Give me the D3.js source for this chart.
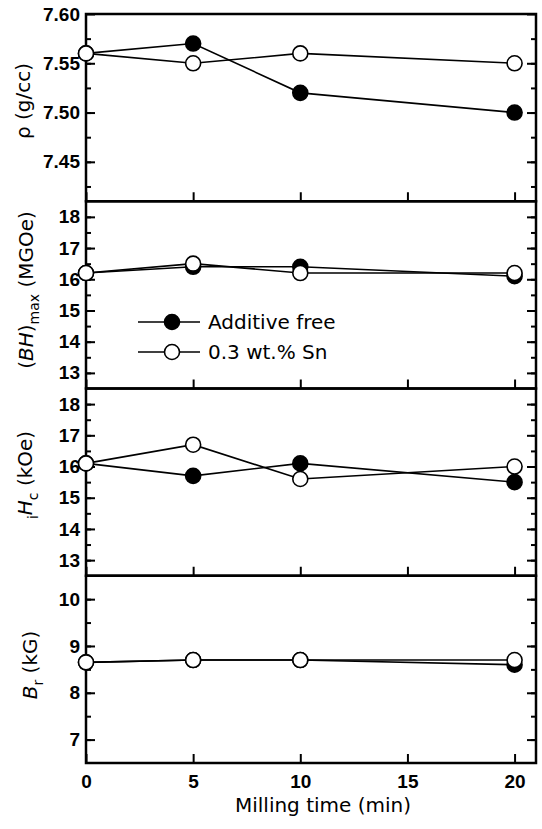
<!DOCTYPE html>
<html>
<head>
<meta charset="utf-8">
<title>Milling time</title>
<script src="https://d3js.org/d3.v7.min.js"></script>
<style>
body { margin: 0; background: #fff; }
.tick text { font-family: "Liberation Sans", Arial, sans-serif; font-weight: bold; font-size: 19px; fill: #000; }
.axis path { display: none; }
.axis line { stroke: #000; stroke-width: 2; }
.lbl { font-family: "DejaVu Sans", sans-serif; font-size: 20px; fill: #000; }
</style>
</head>
<body>
<script>
// data
var times = [0, 5, 10, 20];
var xTicks = [0, 5, 10, 15, 20];

var rhoFree = [7.56, 7.57, 7.52, 7.50];
var rhoSn   = [7.56, 7.55, 7.56, 7.55];
var bhFree  = [16.2, 16.4, 16.4, 16.1];
var bhSn    = [16.2, 16.5, 16.2, 16.2];
var hcFree  = [16.1, 15.7, 16.1, 15.5];
var hcSn    = [16.1, 16.7, 15.6, 16.0];
var brFree  = [8.65, 8.7, 8.7, 8.6];
var brSn    = [8.65, 8.7, 8.7, 8.7];

var rhoTicks = [7.45, 7.50, 7.55, 7.60];
var bhTicks = [13, 14, 15, 16, 17, 18];
var hcTicks = [13, 14, 15, 16, 17, 18];
var brTicks = [7, 8, 9, 10];

var legendNames = ["Additive free", "0.3 wt.% Sn"];

var W = 542, H = 829;
var pL = 86, pR = 536, pT = 14, ph = 187.25;

var svg = d3.select("body").append("svg").attr("width", W).attr("height", H);

var x = d3.scaleLinear().domain([0, 21]).range([pL, pR]);

var panels = [
  {dom: [7.41, 7.60], major: rhoTicks, minorStep: 0.025, fmt: d3.format(".2f"), a: rhoFree, b: rhoSn},
  {dom: [12.5, 18.5], major: bhTicks, minorStep: 0.5, fmt: d3.format("d"), a: bhFree, b: bhSn},
  {dom: [12.5, 18.5], major: hcTicks, minorStep: 0.5, fmt: d3.format("d"), a: hcFree, b: hcSn},
  {dom: [6.5, 10.5], major: brTicks, minorStep: 0.5, fmt: d3.format("d"), a: brFree, b: brSn}
];

panels.forEach(function(p, i) {
  var y0 = pT + i * ph, y1 = y0 + ph;
  var y = d3.scaleLinear().domain(p.dom).range([y1, y0]);
  var minor = d3.range(Math.ceil(p.dom[0] / p.minorStep - 1e-6), Math.floor(p.dom[1] / p.minorStep + 1e-6) + 1)
    .map(function(k) { return +(k * p.minorStep).toFixed(4); })
    .filter(function(v) { return v > p.dom[0] && v < p.dom[1]; });

  var g = svg.append("g");
  // left axis
  g.append("g").attr("class", "axis").attr("transform", "translate(" + pL + ",0)")
    .call(d3.axisLeft(y).tickValues(minor).tickSize(-5).tickFormat(""));
  g.append("g").attr("class", "axis").attr("transform", "translate(" + pL + ",0)")
    .call(d3.axisLeft(y).tickValues(p.major).tickSize(-9).tickPadding(6).tickFormat(p.fmt));
  // right axis
  g.append("g").attr("class", "axis").attr("transform", "translate(" + pR + ",0)")
    .call(d3.axisRight(y).tickValues(minor).tickSize(-5).tickFormat(""));
  g.append("g").attr("class", "axis").attr("transform", "translate(" + pR + ",0)")
    .call(d3.axisRight(y).tickValues(p.major).tickSize(-9).tickFormat(""));
  // bottom x ticks
  var xa = d3.axisBottom(x).tickValues(xTicks).tickSize(-9).tickPadding(12);
  if (i < 3) xa.tickFormat("");
  g.append("g").attr("class", "axis").attr("transform", "translate(0," + y1 + ")").call(xa);

  g.append("rect").attr("x", pL).attr("y", y0).attr("width", pR - pL).attr("height", ph)
    .attr("fill", "none").attr("stroke", "#000").attr("stroke-width", 2.5);

  var line = d3.line().x(function(d, j) { return x(times[j]); }).y(function(d) { return y(d); });
  [p.a, p.b].forEach(function(s) {
    g.append("path").datum(s).attr("d", line).attr("fill", "none")
      .attr("stroke", "#000").attr("stroke-width", 1.6);
  });
  // filled first, open on top
  [p.a, p.b].forEach(function(s, k) {
    g.selectAll(null).data(s).enter().append("circle")
      .attr("cx", function(d, j) { return x(times[j]); })
      .attr("cy", function(d) { return y(d); })
      .attr("r", 7.5)
      .attr("fill", k === 0 ? "#000" : "#fff")
      .attr("stroke", "#000").attr("stroke-width", 1.6);
  });
});

// y labels
function ylab(cx, cy, parts) {
  var t = svg.append("text").attr("class", "lbl").attr("text-anchor", "middle")
    .attr("transform", "translate(" + cx + "," + cy + ") rotate(-90)");
  parts.forEach(function(pt) {
    var s = t.append("tspan").text(pt.t);
    if (pt.it) s.attr("font-style", "italic");
    if (pt.sub) s.attr("font-size", 14);
    if (pt.dy) s.attr("dy", pt.dy);
  });
}
ylab(30, 101, [{t: "ρ  (g/cc)"}]);
ylab(33, 290, [{t: "("}, {t: "BH", it: true}, {t: ")"}, {t: "max", sub: true, dy: 6}, {t: " (MGOe)", dy: -6}]);
ylab(32, 475, [{t: "i", sub: true, dy: 6}, {t: "H", it: true, dy: -6}, {t: "c", sub: true, dy: 6}, {t: " (kOe)", dy: -6}]);
ylab(37, 665, [{t: "B", it: true}, {t: "r", sub: true, dy: 6}, {t: " (kG)", dy: -6}]);

// x label
svg.append("text").attr("class", "lbl").attr("text-anchor", "middle")
  .attr("x", (pL + pR) / 2 + 12).attr("y", 812).text("Milling time (min)");

// legend
var lg = svg.append("g").attr("transform", "translate(138,322)");
legendNames.forEach(function(n, k) {
  var row = lg.append("g").attr("transform", "translate(0," + (k * 30) + ")");
  row.append("line").attr("x1", 0).attr("x2", 62).attr("stroke", "#000").attr("stroke-width", 1.6);
  row.append("circle").attr("cx", 34).attr("r", 7.5).attr("fill", k === 0 ? "#000" : "#fff")
    .attr("stroke", "#000").attr("stroke-width", 1.6);
  row.append("text").attr("class", "lbl").attr("x", 70).attr("y", 7).text(n);
});
</script>
</body>
</html>
